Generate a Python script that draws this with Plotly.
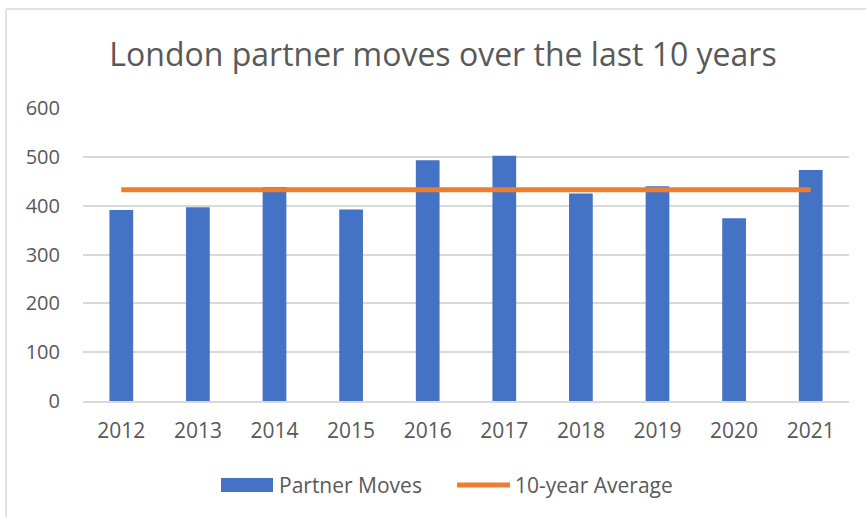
import plotly.graph_objects as go

years = ["2012", "2013", "2014", "2015", "2016", "2017", "2018", "2019", "2020", "2021"]
partner_moves = [391, 397, 438, 392, 493, 502, 425, 440, 374, 473]
avg_value = sum(partner_moves) / len(partner_moves)
average_line = [avg_value] * len(years)
y_ticks = [0, 100, 200, 300, 400, 500, 600]
legend_names = ["Partner Moves", "10-year Average"]

W, H = 866, 517
L, R, T, B = 83, 17, 108, 116
pw = W - L - R
ph = H - T - B


def px_x(p):
    return (p - L) / pw


def px_y(p):
    return (H - B - p) / ph


fig = go.Figure()
fig.add_trace(go.Bar(
    x=years, y=partner_moves, name=legend_names[0],
    marker=dict(color="#4472C4", line=dict(width=0)),
))
fig.add_trace(go.Scatter(
    x=years, y=average_line, name=legend_names[1], mode="lines",
    line=dict(color="#ED7D31", width=5),
))

bx = px_x(6)
by = px_y(9)

fig.update_layout(
    width=W, height=H,
    margin=dict(l=L, r=R, t=T, b=B),
    paper_bgcolor="white", plot_bgcolor="white",
    font=dict(family="Open Sans", color="#595959", size=19),
    title=dict(text="London partner moves over the last 10 years",
               x=443 / W, xanchor="center", y=1 - 55 / H, yanchor="middle",
               font=dict(family="Open Sans", size=32, color="#595959")),
    bargap=0.69,
    showlegend=False,
    xaxis=dict(type="category", showgrid=False, showline=True, linecolor="#D9D9D9",
               linewidth=1.5, ticks="", tickfont=dict(size=21, color="#595959"),
               ticklabelstandoff=10),
    yaxis=dict(range=[0, 600], tickvals=y_ticks, showgrid=True, gridcolor="#D9D9D9",
               gridwidth=1.5, zeroline=False, showline=False, ticks="",
               tickfont=dict(size=20, color="#595959"), ticklabelstandoff=22),
    shapes=[
        dict(type="line", xref="paper", yref="paper", x0=bx, x1=1.2, y0=by, y1=by,
             line=dict(color="#D9D9D9", width=1.5)),
        dict(type="line", xref="paper", yref="paper", x0=bx, x1=bx, y0=by, y1=-0.5,
             line=dict(color="#D9D9D9", width=1.5)),
        # legend keys
        dict(type="rect", xref="paper", yref="paper", x0=px_x(221), x1=px_x(273),
             y0=px_y(492), y1=px_y(478), fillcolor="#4472C4", line=dict(width=0)),
        dict(type="line", xref="paper", yref="paper", x0=px_x(457), x1=px_x(510),
             y0=px_y(485), y1=px_y(485), line=dict(color="#ED7D31", width=5)),
    ],
    annotations=[
        dict(text=legend_names[0], xref="paper", yref="paper", x=px_x(277), y=px_y(485),
             xanchor="left", yanchor="middle", showarrow=False,
             font=dict(size=21, color="#595959")),
        dict(text=legend_names[1], xref="paper", yref="paper", x=px_x(513), y=px_y(485),
             xanchor="left", yanchor="middle", showarrow=False,
             font=dict(size=21, color="#595959")),
    ],
)

fig.write_html("out.html", config={"displayModeBar": False},
               post_script="document.body.style.margin='0';")
